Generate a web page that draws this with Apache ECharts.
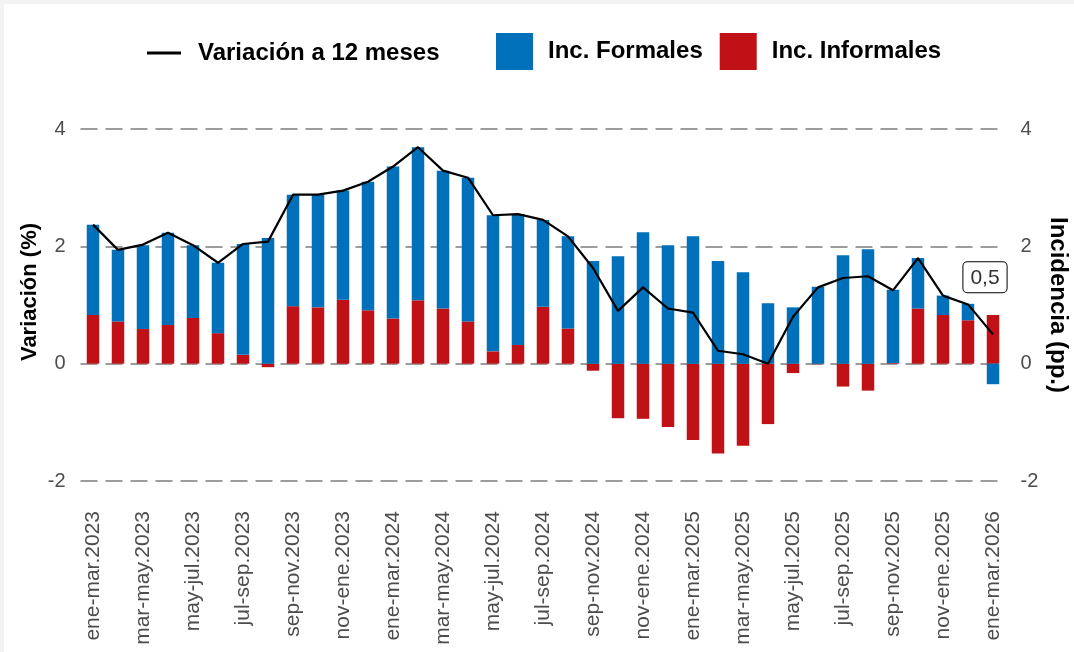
<!DOCTYPE html>
<html>
<head>
<meta charset="utf-8">
<script src="https://cdn.jsdelivr.net/npm/echarts@6/dist/echarts.min.js"></script>
<style>
html,body{margin:0;padding:0;background:#f3f3f3;}
#bg{position:absolute;left:4px;top:4px;width:1070px;height:648px;background:#fff;}
#chart{position:absolute;left:0;top:0;width:1074px;height:652px;}
</style>
</head>
<body>
<div id="bg"></div>
<div id="chart"></div>
<script>
const categories = [
 'ene-mar.2023','feb-abr.2023','mar-may.2023','abr-jun.2023','may-jul.2023','jun-ago.2023',
 'jul-sep.2023','ago-oct.2023','sep-nov.2023','oct-dic.2023','nov-ene.2023','dic-feb.2024',
 'ene-mar.2024','feb-abr.2024','mar-may.2024','abr-jun.2024','may-jul.2024','jun-ago.2024',
 'jul-sep.2024','ago-oct.2024','sep-nov.2024','oct-dic.2024','nov-ene.2024','dic-feb.2025',
 'ene-mar.2025','feb-abr.2025','mar-may.2025','abr-jun.2025','may-jul.2025','jun-ago.2025',
 'jul-sep.2025','ago-oct.2025','sep-nov.2025','oct-dic.2025','nov-ene.2025','dic-feb.2026',
 'ene-mar.2026'
];
const variacion12 = [
 2.37,1.94,2.03,2.23,2.02,1.72,2.04,2.08,2.88,2.88,2.95,3.10,
 3.36,3.69,3.29,3.17,2.53,2.55,2.45,2.17,1.63,0.90,1.30,0.94,
 0.87,0.22,0.16,0.00,0.80,1.30,1.46,1.49,1.25,1.80,1.16,1.01,
 0.50
];
const incFormales = [
 1.54,1.22,1.43,1.57,1.24,1.20,1.89,2.14,1.90,1.92,1.86,2.19,
 2.59,2.61,2.35,2.45,2.32,2.23,1.48,1.57,1.75,1.83,2.24,2.02,
 2.17,1.75,1.56,1.03,0.96,1.31,1.85,1.95,1.25,0.86,0.33,0.28,
 -0.35
];
const incInformales = [
 0.83,0.72,0.59,0.66,0.78,0.52,0.15,-0.06,0.98,0.96,1.09,0.91,
 0.77,1.08,0.94,0.72,0.21,0.32,0.97,0.60,-0.12,-0.93,-0.94,-1.08,
 -1.30,-1.53,-1.40,-1.03,-0.16,-0.01,-0.39,-0.46,0.01,0.94,0.83,0.74,
 0.83
];
const yTicks = [-2, 0, 2, 4];
const lastLabel = '0,5';

const BLUE = '#0070BA', RED = '#C01117';
const FONT = '"Liberation Sans", Arial, sans-serif';

const lineData = variacion12.map((v, i) => i === variacion12.length - 1 ? {
  value: v,
  label: {
    show: true, formatter: lastLabel, position: 'top', distance: 42, offset: [-8, 0],
    backgroundColor: '#fff', borderColor: '#000', borderWidth: 1, borderRadius: 4,
    padding: [5, 7, 4, 7], fontSize: 21, fontFamily: FONT, color: '#333'
  }
} : v);

const yAxisCommon = {
  type: 'value', min: yTicks[0], max: yTicks[yTicks.length - 1], interval: 2,
  axisLine: { show: false }, axisTick: { show: false },
  axisLabel: { fontSize: 20, color: '#4d4d4d', fontFamily: FONT, margin: 15 },
  nameLocation: 'middle', nameMoveOverlap: false
};

const chart = echarts.init(document.getElementById('chart'), null, { renderer: 'canvas' });
chart.setOption({
  animation: false,
  backgroundColor: 'transparent',
  textStyle: { fontFamily: FONT },
  legend: [{
    left: 147, top: 41, padding: 0, itemWidth: 34, itemHeight: 37,
    data: [{ name: 'Variación a 12 meses', icon: 'path://M0,0H34V3H0Z' }],
    textStyle: { fontSize: 24, fontWeight: 'bold', color: '#000', fontFamily: FONT, padding: [0, 0, 0, 12] }
  }, {
    left: 496, top: 33, padding: 0, itemWidth: 37, itemHeight: 37, itemGap: 17,
    data: [{ name: 'Inc. Formales', icon: 'rect' }, { name: 'Inc. Informales', icon: 'rect' }],
    textStyle: { fontSize: 24, fontWeight: 'bold', color: '#000', fontFamily: FONT, padding: [7, 0, 0, 10] }
  }],
  grid: { left: 80.5, right: 68.5, top: 129, bottom: 171, containLabel: false, outerBoundsMode: 'none' },
  xAxis: {
    type: 'category', data: categories, boundaryGap: true,
    axisLine: { show: false }, axisTick: { show: false },
    axisLabel: { interval: 1, rotate: 90, fontSize: 21, color: '#4d4d4d', fontFamily: FONT, margin: 30 }
  },
  yAxis: [
    Object.assign({}, yAxisCommon, {
      position: 'left', name: 'Variación (%)', nameGap: 40, nameRotate: 90,
      nameTextStyle: { fontSize: 22, fontWeight: 'bold', color: '#000', fontFamily: FONT, padding: [0, 0, 0, 26] },
      splitLine: { show: true, lineStyle: { color: '#9c9c9c', width: 2, type: [17, 8] } }
    }),
    Object.assign({}, yAxisCommon, {
      position: 'right', name: 'Incidencia (pp.)', nameGap: 40, nameRotate: -90,
      nameTextStyle: { fontSize: 24, fontWeight: 'bold', color: '#000', fontFamily: FONT },
      splitLine: { show: false }
    })
  ],
  series: [
    { name: 'Inc. Informales', type: 'bar', stack: 'inc', yAxisIndex: 1, data: incInformales,
      barWidth: 12.5, itemStyle: { color: RED } },
    { name: 'Inc. Formales', type: 'bar', stack: 'inc', yAxisIndex: 1, data: incFormales,
      barWidth: 12.5, itemStyle: { color: BLUE } },
    { name: 'Variación a 12 meses', type: 'line', yAxisIndex: 0, data: lineData,
      showSymbol: true, symbol: 'circle', symbolSize: 0.1,
      lineStyle: { color: '#000', width: 2.2 }, itemStyle: { color: '#000' },
      z: 5 }
  ]
});
</script>
</body>
</html>
